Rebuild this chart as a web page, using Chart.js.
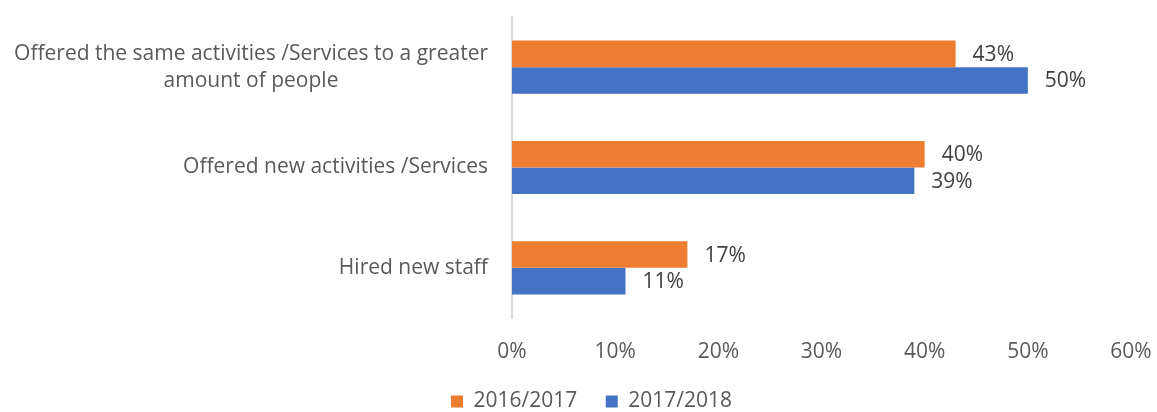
<!DOCTYPE html>
<html>
<head>
<meta charset="utf-8">
<script src="https://cdn.jsdelivr.net/npm/chart.js@4"></script>
<style>
  html, body { margin: 0; padding: 0; background: #fff; }
  #wrap { width: 1157px; height: 412px; }
</style>
</head>
<body>
<div id="wrap"><canvas id="grafico" width="1157" height="412"></canvas></div>
<script>
"use strict"

// categorie (dall'alto verso il basso) e valori in percentuale
const categorie = [
    ["Offered the same activities /Services to a greater", "amount of people"],
    ["Offered new activities /Services"],
    ["Hired new staff"]
];
const anni = ["2016/2017", "2017/2018"];
const valori2016 = [43, 40, 17];
const valori2017 = [50, 39, 11];
const tickX = [0, 10, 20, 30, 40, 50, 60];

const FONT = "'Open Sans', 'Liberation Sans', sans-serif";
const GRIGIO = "#595959";

// etichette delle categorie: blocco allineato a destra, righe centrate tra loro
const etichetteCategorie = {
    id: "etichetteCategorie",
    afterDraw(chart) {
        let ctx = chart.ctx;
        let y = chart.scales.y;
        ctx.save();
        ctx.font = "21px " + FONT;
        ctx.fillStyle = GRIGIO;
        ctx.textAlign = "center";
        ctx.textBaseline = "middle";
        let destra = chart.chartArea.left - 24;
        let interlinea = 27;
        categorie.forEach(function (righe, i) {
            let largh = Math.max(...righe.map(r => ctx.measureText(r).width));
            let cx = destra - largh / 2;
            let cy = y.getPixelForValue(i);
            let y0 = cy - (righe.length - 1) * interlinea / 2;
            righe.forEach(function (r, k) {
                ctx.fillText(r, cx, y0 + k * interlinea);
            });
        });
        ctx.restore();
    }
};

// percentuale scritta a destra di ogni barra
const etichetteValori = {
    id: "etichetteValori",
    afterDatasetsDraw(chart) {
        let ctx = chart.ctx;
        ctx.save();
        ctx.font = "21px " + FONT;
        ctx.fillStyle = "#404040";
        ctx.textAlign = "left";
        ctx.textBaseline = "middle";
        chart.data.datasets.forEach(function (ds, d) {
            chart.getDatasetMeta(d).data.forEach(function (bar, i) {
                ctx.fillText(ds.data[i] + "%", bar.x + 17, bar.y + 1);
            });
        });
        ctx.restore();
    }
};

let canvas = document.getElementById("grafico");
let chart = new Chart(canvas, {
    type: "bar",
    data: {
        labels: categorie.map(c => c.join(" ")),
        datasets: [
            {
                label: anni[0],
                data: valori2016,
                backgroundColor: "#ED7D31",
                borderWidth: 0
            },
            {
                label: anni[1],
                data: valori2017,
                backgroundColor: "#4472C4",
                borderWidth: 0
            }
        ]
    },
    options: {
        indexAxis: "y",
        responsive: false,
        animation: false,
        devicePixelRatio: 1,
        // il padding sinistro sposta la legenda; l'asse y compensa con la sua larghezza
        layout: { padding: { top: 17, right: 26, left: 52, bottom: -10 } },
        datasets: { bar: { categoryPercentage: 0.53, barPercentage: 1 } },
        scales: {
            x: {
                min: 0,
                max: 60,
                afterBuildTicks(scale) {
                    scale.ticks = tickX.map(v => ({ value: v }));
                },
                afterFit(scale) {
                    scale.height = 44.5;
                    scale.paddingLeft = 0;
                    scale.paddingRight = 0;
                },
                grid: { display: false },
                border: { display: false },
                ticks: {
                    padding: 13,
                    color: GRIGIO,
                    font: { family: FONT, size: 21 },
                    callback: v => v + "%"
                }
            },
            y: {
                afterFit(scale) { scale.width = 512 - 52; },
                grid: { display: false },
                border: { display: true, color: "#d9d9d9", width: 2 },
                ticks: { display: false }
            }
        },
        plugins: {
            tooltip: { enabled: false },
            legend: {
                position: "bottom",
                labels: {
                    color: GRIGIO,
                    font: { family: FONT, size: 21 },
                    boxWidth: 12,
                    boxHeight: 12,
                    padding: 28.5
                }
            }
        }
    },
    plugins: [etichetteCategorie, etichetteValori]
});
</script>
</body>
</html>
